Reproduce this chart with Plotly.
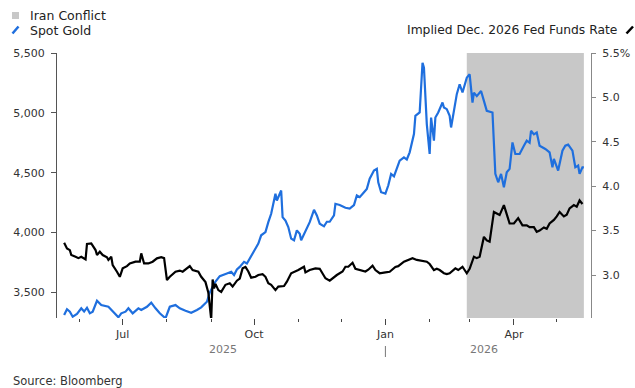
import plotly.graph_objects as go

# ---------------- data ----------------
gold_dates = [
    "2025-05-21", "2025-05-23", "2025-05-25", "2025-05-27", "2025-05-30",
    "2025-06-02", "2025-06-04", "2025-06-06", "2025-06-08", "2025-06-10", "2025-06-13", "2025-06-16",
    "2025-06-21", "2025-06-24", "2025-06-28", "2025-06-30",
    "2025-07-03", "2025-07-05", "2025-07-08", "2025-07-12", "2025-07-14", "2025-07-18", "2025-07-21",
    "2025-07-24", "2025-07-27", "2025-07-31",
    "2025-08-03", "2025-08-07", "2025-08-10", "2025-08-14", "2025-08-18", "2025-08-22", "2025-08-25",
    "2025-08-29", "2025-08-31",
    "2025-09-04", "2025-09-07", "2025-09-12", "2025-09-15", "2025-09-17", "2025-09-19", "2025-09-21",
    "2025-09-24", "2025-09-26", "2025-09-28",
    "2025-10-02", "2025-10-04", "2025-10-06", "2025-10-09", "2025-10-11", "2025-10-13", "2025-10-16",
    "2025-10-17", "2025-10-20", "2025-10-21", "2025-10-23", "2025-10-25", "2025-10-27", "2025-10-29",
    "2025-10-31",
    "2025-11-02", "2025-11-03", "2025-11-06", "2025-11-09", "2025-11-12", "2025-11-14", "2025-11-16",
    "2025-11-19", "2025-11-21", "2025-11-23", "2025-11-26", "2025-11-27", "2025-11-30",
    "2025-12-04", "2025-12-07", "2025-12-10", "2025-12-12", "2025-12-14", "2025-12-17", "2025-12-19",
    "2025-12-21", "2025-12-24", "2025-12-26", "2025-12-27", "2025-12-29",
    "2026-01-01", "2026-01-03", "2026-01-05", "2026-01-07", "2026-01-09", "2026-01-11", "2026-01-14",
    "2026-01-16", "2026-01-18", "2026-01-21", "2026-01-22", "2026-01-25", "2026-01-27", "2026-01-28",
    "2026-01-30",
    "2026-02-01", "2026-02-02", "2026-02-04", "2026-02-05", "2026-02-07", "2026-02-10", "2026-02-11",
    "2026-02-13", "2026-02-15", "2026-02-16", "2026-02-18", "2026-02-20", "2026-02-22", "2026-02-24",
    "2026-02-27",
    "2026-03-01", "2026-03-03", "2026-03-04", "2026-03-06", "2026-03-09", "2026-03-11", "2026-03-13",
    "2026-03-17", "2026-03-18", "2026-03-19", "2026-03-21", "2026-03-23", "2026-03-25", "2026-03-27",
    "2026-03-29", "2026-03-31",
    "2026-04-02", "2026-04-05", "2026-04-08", "2026-04-10", "2026-04-12", "2026-04-13", "2026-04-15",
    "2026-04-17", "2026-04-19", "2026-04-23", "2026-04-26", "2026-04-28", "2026-04-29",
    "2026-05-02", "2026-05-05", "2026-05-07", "2026-05-09", "2026-05-12", "2026-05-14", "2026-05-16",
    "2026-05-17", "2026-05-19", "2026-05-20",
]
gold_values = [
    3311, 3359, 3339, 3297, 3320,
    3367, 3340, 3372, 3325, 3339, 3430, 3394, 3380, 3339, 3292, 3325,
    3339, 3367, 3325, 3367, 3353, 3380, 3414, 3367, 3325, 3284,
    3380, 3394, 3367, 3347, 3330, 3353, 3375, 3422, 3500,
    3590, 3636, 3658, 3672, 3645, 3691, 3713, 3755, 3741, 3783,
    3866, 3908, 3977, 4004, 4087, 4157, 4324, 4268, 4351, 4129, 4100, 4046, 3949, 3935, 4018,
    3990, 3935, 4018, 4087, 4190, 4143, 4074, 4052, 4090, 4090, 4143, 4240, 4230,
    4207, 4200, 4230, 4310, 4296, 4337, 4365, 4450, 4518, 4532, 4420, 4337,
    4325, 4393, 4490, 4470, 4532, 4600, 4628, 4610, 4670, 4823, 4975, 5003, 5419, 5377, 4906,
    4656, 4961, 4767, 4961, 5003, 5086, 5045, 5031, 4975, 4878, 5017, 5156, 5239, 5170, 5294,
    5322, 5086, 5169, 5140, 5183, 5100, 5017, 5003, 4684, 4490, 4420, 4490, 4379, 4504, 4532, 4753,
    4656, 4656, 4725, 4767, 4750, 4850, 4820, 4836, 4725, 4698, 4670, 4545, 4615,
    4518, 4684, 4725, 4734, 4684, 4545, 4560, 4490, 4545, 4545,
]

fed_dates = [
    "2025-05-21", "2025-05-23", "2025-05-25", "2025-05-26", "2025-05-29", "2025-05-31",
    "2025-06-02", "2025-06-05", "2025-06-06", "2025-06-09", "2025-06-12", "2025-06-13", "2025-06-15",
    "2025-06-17", "2025-06-20", "2025-06-21", "2025-06-23", "2025-06-24", "2025-06-27", "2025-06-29",
    "2025-07-01", "2025-07-04", "2025-07-06", "2025-07-10", "2025-07-13", "2025-07-14", "2025-07-16",
    "2025-07-19", "2025-07-22", "2025-07-25", "2025-07-28", "2025-07-30",
    "2025-08-01", "2025-08-03", "2025-08-07", "2025-08-10", "2025-08-12", "2025-08-15", "2025-08-17",
    "2025-08-19", "2025-08-23", "2025-08-25", "2025-08-28", "2025-08-30",
    "2025-09-01", "2025-09-02", "2025-09-03", "2025-09-04", "2025-09-06", "2025-09-08", "2025-09-11",
    "2025-09-14", "2025-09-16", "2025-09-19", "2025-09-21", "2025-09-23", "2025-09-25", "2025-09-27",
    "2025-09-29",
    "2025-10-02", "2025-10-04", "2025-10-07", "2025-10-09", "2025-10-11", "2025-10-13", "2025-10-16",
    "2025-10-18", "2025-10-22", "2025-10-24", "2025-10-27", "2025-10-30",
    "2025-11-01", "2025-11-05", "2025-11-06", "2025-11-09", "2025-11-13", "2025-11-16", "2025-11-20",
    "2025-11-23", "2025-11-26", "2025-11-28",
    "2025-12-02", "2025-12-04", "2025-12-06", "2025-12-09", "2025-12-11", "2025-12-14", "2025-12-18",
    "2025-12-20", "2025-12-23", "2025-12-25", "2025-12-28",
    "2026-01-01", "2026-01-04", "2026-01-08", "2026-01-10", "2026-01-14", "2026-01-17", "2026-01-20",
    "2026-01-23", "2026-01-27", "2026-01-30",
    "2026-02-01", "2026-02-04", "2026-02-06", "2026-02-08", "2026-02-11", "2026-02-13", "2026-02-15",
    "2026-02-19", "2026-02-21", "2026-02-24", "2026-02-27",
    "2026-03-01", "2026-03-04", "2026-03-06", "2026-03-08", "2026-03-11", "2026-03-13", "2026-03-15",
    "2026-03-18", "2026-03-20", "2026-03-22", "2026-03-25", "2026-03-27", "2026-03-29",
    "2026-04-01", "2026-04-04", "2026-04-07", "2026-04-10", "2026-04-12", "2026-04-15", "2026-04-17",
    "2026-04-19", "2026-04-22", "2026-04-24", "2026-04-26", "2026-04-29",
    "2026-05-01", "2026-05-03", "2026-05-06", "2026-05-08", "2026-05-10", "2026-05-13", "2026-05-15",
    "2026-05-17", "2026-05-19",
]
fed_values = [
    3.363, 3.30, 3.28, 3.225, 3.206, 3.19,
    3.206, 3.176, 3.349, 3.356, 3.281, 3.225, 3.262, 3.225, 3.20, 3.17, 3.206, 3.112, 3.037, 2.98,
    3.075, 3.10, 3.13, 3.15, 3.15, 3.244, 3.13, 3.13, 3.15, 3.188, 3.20, 3.19,
    2.944, 2.98, 3.037, 3.05, 3.037, 3.075, 3.10, 3.056, 3.037, 2.98, 2.92, 2.80,
    2.50, 2.95, 2.85, 2.90, 2.83, 2.81, 2.89, 2.907, 2.87, 2.936, 2.96, 3.075, 3.09, 3.04, 2.97,
    2.98, 3.00, 3.01, 2.98, 2.907, 2.89, 2.83, 2.87, 2.876, 2.925, 3.02, 3.04,
    3.056, 3.093, 3.03, 3.056, 3.075, 3.07, 2.963, 2.936, 2.98, 3.00,
    3.04, 3.093, 3.093, 3.138, 3.07, 3.056, 3.04, 3.06, 3.105, 3.056, 3.02,
    3.03, 3.037, 3.09, 3.10, 3.15, 3.17, 3.19, 3.17, 3.16, 3.15,
    3.124, 3.056, 3.07, 3.056, 3.02, 3.01, 3.02, 3.075, 3.056, 3.093, 3.02,
    3.07, 3.206, 3.19, 3.206, 3.43, 3.39, 3.375, 3.71, 3.69, 3.675, 3.787, 3.69, 3.58,
    3.58, 3.64, 3.56, 3.56, 3.54, 3.54, 3.487, 3.50, 3.536, 3.52, 3.58, 3.62,
    3.66, 3.71, 3.66, 3.68, 3.75, 3.787, 3.77, 3.84, 3.80,
]

conflict_start = "2026-02-27"
conflict_end = "2026-05-20"

left_ticks = [3500, 4000, 4500, 5000, 5500]
right_ticks = [3.0, 3.5, 4.0, 4.5, 5.0, 5.5]
right_ticktext = ["3.0", "3.5", "4.0", "4.5", "5.0", "5.5%"]
year_labels = [("2025-09-09", "2025"), ("2026-03-11", "2026")]

# ---------------- styling / geometry ----------------
W, H = 635, 388
ML, MR, MT, MB = 57, 44, 53, 70
PW, PH = W - ML - MR, H - MT - MB
FONT = "DejaVu Sans"
BLUE = "#1f6fde"
GRAY_FILL = "#c8c8c8"


def px(x):
    return (x - ML) / PW


def py(y):
    return (H - MB - y) / PH


fig = go.Figure()

fig.add_vrect(x0=conflict_start, x1=conflict_end, fillcolor=GRAY_FILL, opacity=1,
              line_width=0, layer="below")

fig.add_trace(go.Scatter(x=gold_dates, y=gold_values, mode="lines", name="Spot Gold",
                         line=dict(color=BLUE, width=2.2), yaxis="y"))
fig.add_trace(go.Scatter(x=fed_dates, y=fed_values, mode="lines",
                         name="Implied Dec. 2026 Fed Funds Rate",
                         line=dict(color="#000000", width=2.2), yaxis="y2"))

fig.update_layout(
    width=W, height=H,
    margin=dict(l=ML, r=MR, t=MT, b=MB, pad=0, autoexpand=False),
    paper_bgcolor="white", plot_bgcolor="white",
    showlegend=False,
    font=dict(family=FONT, size=11, color="#333333"),
    xaxis=dict(
        type="date", range=["2025-05-16", "2026-05-25"], automargin=False,
        tickformat="%b", dtick="M3", tick0="2025-07-01",
        ticks="outside", ticklen=6, tickwidth=1, tickcolor="#444",
        showgrid=False, showline=False, zeroline=False,
        tickfont=dict(size=11, color="#333"),
        minor=dict(dtick="M1", tick0="2025-07-01", ticks="outside", ticklen=3,
                   tickwidth=1, tickcolor="#444", showgrid=False),
    ),
    yaxis=dict(
        range=[3286, 5500], tickvals=left_ticks, tickformat=",", automargin=False,
        ticks="outside", ticklen=5, tickcolor="#555", tickwidth=1,
        showline=True, linecolor="#555", linewidth=1,
        showgrid=False, zeroline=False,
        tickfont=dict(size=11, color="#333"),
        ticklabelstandoff=4,
    ),
    yaxis2=dict(
        overlaying="y", side="right", automargin=False,
        range=[2.516, 5.5], tickvals=right_ticks, ticktext=right_ticktext,
        ticks="outside", ticklen=4, tickcolor="#888", tickwidth=1,
        showline=True, linecolor="#888", linewidth=1.2,
        showgrid=False, zeroline=False,
        tickfont=dict(size=11, color="#333"),
        ticklabelstandoff=4,
    ),
)

# legend-like labels
ann = [
    dict(text="Iran Conflict", x=px(28), y=py(15), xanchor="left", yanchor="middle",
         font=dict(size=12.5, color="#222")),
    dict(text="Spot Gold", x=px(28), y=py(30), xanchor="left", yanchor="middle",
         font=dict(size=12.5, color="#222")),
    dict(text="Implied Dec. 2026 Fed Funds Rate", x=px(619), y=py(30), xanchor="right",
         yanchor="middle", font=dict(size=12.3, color="#222")),
    dict(text="Source: Bloomberg", x=px(11), y=py(381), xanchor="left", yanchor="middle",
         font=dict(size=11.5, color="#333")),
]
for a in ann:
    a.update(xref="paper", yref="paper", showarrow=False)
    fig.add_annotation(**a)

for d, t in year_labels:
    fig.add_annotation(text=t, x=d, xref="x", y=py(349), yref="paper", showarrow=False,
                       xanchor="center", yanchor="middle", font=dict(size=11, color="#777"))

fig.add_shape(type="line", xref="x", yref="paper", x0="2026-01-01", x1="2026-01-01",
              y0=py(346), y1=py(357), line=dict(color="#777", width=1))

# legend icons
fig.add_shape(type="rect", xref="paper", yref="paper", x0=px(12), x1=px(19), y0=py(19), y1=py(12),
              fillcolor=GRAY_FILL, line_width=0)
fig.add_shape(type="line", xref="paper", yref="paper", x0=px(12.5), x1=px(18.5), y0=py(33.5), y1=py(26.5),
              line=dict(color=BLUE, width=2.5))
fig.add_shape(type="line", xref="paper", yref="paper", x0=px(626.5), x1=px(633), y0=py(33.5), y1=py(26.5),
              line=dict(color="#000", width=2.5))

fig.write_html("out.html")
